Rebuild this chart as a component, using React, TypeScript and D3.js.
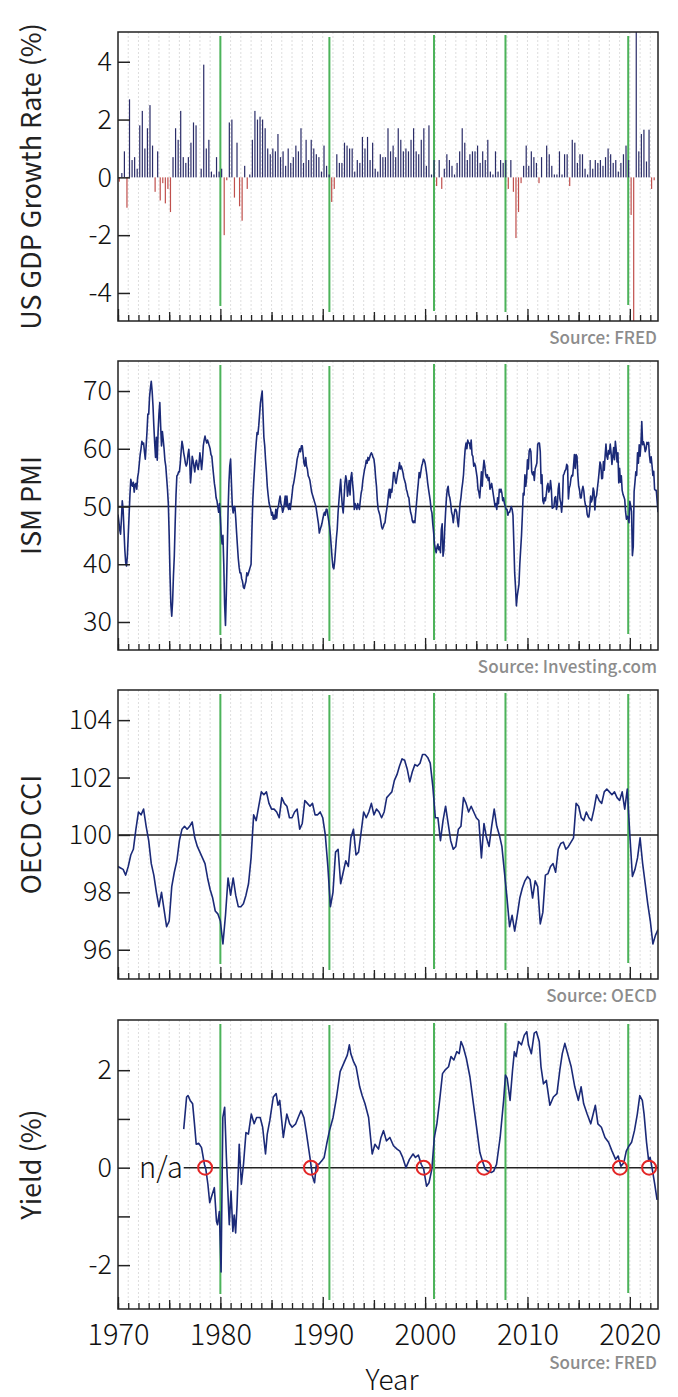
import React, { useEffect, useRef } from "react";
import * as d3 from "d3";

// quarterly real GDP growth, % q/q, from 1970 Q1
const gdpStart = 1970;
const gdpGrowth = [
  -0.15, 0.15, 0.9, -1.05, 2.7, 0.6, 0.7, 0.3, 1.8, 2.3, 1.0, 1.7, 2.5, 1.1, -0.5, 0.9,
  -0.8, -0.2, -0.9, -0.4, -1.2, 0.7, 1.7, 1.3, 2.3, 0.7, 0.5, 0.7, 1.2, 1.9, 1.8, 0.0,
  0.3, 3.9, 1.0, 1.3, 0.2, 0.1, 0.7, 0.2, 0.3, -2.0, -0.1, 1.9, 2.0, -0.7, 1.2, -1.0,
  -1.5, 0.4, -0.4, 0.1, 1.3, 2.3, 2.0, 2.1, 2.0, 1.7, 1.0, 0.8, 1.0, 0.9, 1.5, 0.7,
  0.9, 0.4, 1.0, 0.5, 0.7, 1.1, 0.9, 1.7, 0.5, 1.3, 0.6, 1.3, 1.0, 0.8, 0.7, 0.2,
  1.1, 0.4, 0.1, -0.85, -0.4, 0.8, 0.5, 0.5, 1.2, 1.1, 1.0, 1.0, 0.2, 0.6, 0.5, 1.4,
  1.0, 1.4, 0.6, 1.2, 0.3, 0.2, 0.8, 0.7, 0.7, 1.7, 0.9, 1.1, 0.7, 1.7, 1.3, 0.9,
  1.0, 0.9, 1.3, 1.7, 0.9, 0.8, 1.3, 1.7, 0.4, 1.8, 0.1, 0.6, -0.3, 0.6, -0.4, 0.3,
  0.8, 0.6, 0.4, 0.1, 0.5, 0.9, 1.7, 1.2, 0.6, 0.8, 0.9, 0.9, 1.1, 0.5, 0.9, 0.6,
  1.3, 0.2, 0.1, 0.9, 0.2, 0.6, 0.5, 0.6, -0.4, 0.6, -0.5, -2.1, -1.2, -0.2, 0.4, 1.1,
  0.4, 0.9, 0.7, 0.5, -0.2, 0.7, 0.0, 1.1, 0.8, 0.4, 0.1, 0.1, 0.9, 0.1, 0.8, 0.8,
  -0.3, 1.3, 1.2, 0.5, 0.8, 0.8, 0.3, 0.1, 0.6, 0.3, 0.6, 0.5, 0.6, 0.4, 0.7, 1.0,
  0.8, 0.5, 0.6, 0.2, 0.5, 0.8, 1.1, 0.6, -1.3, -7.9, 7.5, 0.9, 1.5, 1.65, 0.55, 1.65,
  -0.4, -0.1,
];

// ISM manufacturing PMI, monthly from Jan 1970
const pmiStart = 1970;
const pmiValues = [
  48.6, 47.4, 46.0, 45.2, 47.8, 51.0, 49.5, 46.0, 42.5, 40.3, 39.7, 41.5,
  45.0, 48.5, 52.0, 54.7, 54.0, 53.5, 54.2, 52.5, 53.8, 54.0, 53.0, 55.0,
  55.9, 57.5, 59.0, 60.0, 61.3, 60.8, 61.0, 59.5, 58.2, 60.5, 63.0, 66.0,
  66.0, 69.0, 70.5, 71.7, 70.0, 67.5, 64.0, 61.0, 58.5, 62.0, 58.0, 63.0,
  66.0, 68.0, 64.0, 60.5, 63.0, 61.6, 60.0, 58.0, 57.0, 55.0, 53.0, 50.5,
  45.0, 38.0, 33.0, 31.0, 33.5, 38.0, 41.4, 47.0, 52.0, 55.3, 55.5, 56.0,
  56.0, 57.5, 59.5, 61.3, 60.5, 59.3, 58.5, 57.5, 57.0, 57.5, 59.0, 59.9,
  58.0, 54.1, 56.0, 58.7, 58.0, 57.0, 56.0, 57.5, 58.0, 57.0, 56.4, 57.5,
  59.3, 58.0, 56.4, 58.0, 60.5, 61.5, 62.2, 61.5, 61.0, 61.5, 61.0, 60.5,
  60.0, 59.0, 58.7, 57.0, 55.5, 54.0, 53.0, 51.5, 51.0, 50.0, 49.0, 50.5,
  48.0, 45.0, 43.5, 45.0, 40.0, 33.0, 29.4, 35.0, 42.0, 49.0, 54.0, 57.0,
  58.2, 54.0, 50.0, 48.9, 50.0, 50.0, 48.0, 45.5, 43.2, 41.0, 39.5, 38.5,
  38.5, 37.5, 37.0, 36.0, 35.8, 36.5, 37.0, 38.5, 38.0, 38.5, 39.0, 39.5,
  40.0, 46.0, 51.0, 54.0, 56.5, 59.0, 61.0, 62.8, 62.5, 64.0, 66.0, 68.0,
  69.0, 70.0, 66.0, 62.0, 60.5, 58.0, 56.0, 53.5, 52.0, 50.7, 50.0, 49.5,
  48.5, 49.0, 47.8, 48.5, 47.8, 49.5, 48.0, 49.5, 50.0, 51.0, 51.8, 50.5,
  50.0, 49.0, 49.5, 50.5, 51.8, 50.0, 51.8, 50.0, 49.5, 50.5, 49.5, 50.8,
  52.0, 53.5, 54.1, 55.0, 56.0, 57.0, 58.2, 58.8, 59.5, 60.0, 59.5, 60.5,
  60.5, 59.0, 57.5, 57.0, 58.5, 57.0, 56.5, 55.3, 55.0, 54.5, 53.5, 52.5,
  52.0, 51.5, 51.0, 50.5, 50.0, 49.0, 48.0, 47.0, 45.4, 46.0, 46.5, 47.0,
  47.8, 48.5, 49.0, 48.5, 49.5, 49.5, 48.5, 47.5, 46.5, 45.0, 43.0, 41.0,
  39.5, 39.2, 40.5, 42.5, 44.5, 46.1, 49.0, 51.0, 53.0, 54.7, 52.0, 50.0,
  48.9, 51.5, 54.0, 55.3, 54.5, 51.8, 53.0, 54.5, 52.0, 55.0, 55.9, 54.0,
  52.5, 49.5, 50.5, 50.0, 49.5, 50.5, 50.0, 49.5, 51.0, 52.3, 53.0, 54.5,
  55.5, 56.4, 57.0, 58.0, 57.5, 58.5, 58.0, 58.5, 59.0, 59.3, 59.0, 58.5,
  58.2, 57.0, 55.0, 53.5, 51.0, 49.5, 49.0, 48.5, 47.5, 46.5, 46.1, 46.5,
  47.0, 47.2, 48.5, 49.5, 50.5, 52.0, 53.0, 51.5, 53.0, 52.5, 54.0, 55.9,
  55.9, 54.5, 54.0, 55.0, 56.0, 56.5, 57.6, 56.5, 57.0, 56.5, 55.9, 55.0,
  54.5, 54.0, 53.0, 52.5, 51.8, 51.5, 50.0, 49.0, 48.5, 47.5, 47.2, 47.5,
  47.2, 49.0, 50.7, 52.5, 54.0, 55.9, 55.0, 56.0, 57.0, 57.5, 58.2, 58.0,
  57.5, 56.5, 55.5, 54.1, 53.0, 52.0, 51.0, 49.5, 48.9, 47.0, 45.5, 43.5,
  42.6, 42.0, 43.0, 43.5, 42.5, 43.0, 42.0, 46.0, 47.0, 41.4, 42.5, 46.1,
  49.0, 51.5, 53.0, 53.5, 52.0, 51.5, 50.5, 49.0, 48.5, 47.2, 48.5, 49.5,
  49.5, 49.0, 47.5, 46.5, 48.5, 50.5, 51.5, 53.0, 54.1, 55.5, 58.0, 60.0,
  61.0, 60.0, 61.5, 61.0, 61.0, 60.0, 61.5, 59.0, 58.7, 57.0, 57.5, 57.0,
  56.0, 55.0, 53.0, 52.5, 51.5, 53.5, 56.0, 53.5, 56.4, 58.0, 57.0, 55.5,
  55.0, 55.5, 54.5, 55.0, 53.0, 53.5, 54.0, 53.0, 52.0, 51.0, 50.0, 50.5,
  49.5, 51.5, 50.5, 53.0, 52.5, 53.0, 52.3, 51.0, 51.5, 50.5, 50.0, 49.5,
  49.5, 48.5, 49.0, 49.0, 49.5, 50.0, 49.5, 48.5, 43.7, 38.5, 36.0, 32.8,
  34.5, 35.5, 36.5, 40.0, 42.5, 45.0, 48.5, 52.3, 52.0, 55.5, 53.5, 55.0,
  58.1, 56.5, 59.6, 60.0, 59.5, 56.0, 55.5, 56.0, 54.5, 56.5, 57.0, 57.5,
  60.8, 61.0, 61.0, 59.5, 54.0, 55.5, 51.0, 50.5, 51.5, 51.0, 52.0, 53.5,
  54.0, 52.5, 53.0, 54.5, 53.0, 49.7, 49.8, 50.0, 51.5, 51.7, 49.5, 50.2,
  53.0, 54.0, 51.3, 50.7, 49.0, 50.9, 55.4, 55.7, 56.2, 56.4, 57.3, 57.0,
  51.3, 53.2, 53.7, 54.9, 55.4, 55.3, 57.1, 59.0, 56.6, 59.0, 58.7, 55.5,
  53.5, 52.9, 51.5, 51.5, 52.8, 53.5, 52.7, 51.1, 50.2, 50.1, 48.6, 48.2,
  48.2, 49.5, 51.8, 50.8, 51.3, 53.2, 52.6, 49.4, 51.5, 51.9, 53.2, 54.5,
  56.0, 57.7, 57.2, 54.8, 54.9, 57.8, 56.3, 58.8, 60.8, 58.7, 58.2, 59.7,
  59.1, 60.8, 59.3, 57.3, 58.7, 60.2, 58.1, 61.3, 59.8, 57.7, 59.3, 54.1,
  56.6, 54.2, 55.3, 52.8, 52.1, 51.7, 51.2, 49.1, 47.8, 48.3, 48.1, 47.2,
  50.9, 50.1, 49.1, 41.5, 43.1, 52.6, 54.2, 56.0, 55.4, 59.3, 57.5, 60.7,
  58.7, 60.8, 64.7, 60.7, 61.2, 60.6, 59.5, 59.9, 61.1, 60.8, 61.1, 58.8,
  57.6, 58.6, 57.1, 55.4, 56.1, 53.0, 52.8, 52.8, 50.9, 49.0,
];

// OECD consumer confidence indicator (US), quarterly from 1970 Q1
const cciStart = 1970;
const cciValues = [
  98.9, 98.85, 98.8, 98.6, 98.9, 99.3, 99.5, 100.2, 100.8, 100.7, 100.9, 100.3,
  99.8, 99.0, 98.6, 98.0, 97.5, 98.0, 97.4, 96.8, 97.0, 98.2, 98.7, 99.1,
  99.8, 100.2, 100.3, 100.2, 100.3, 100.45, 99.9, 99.6, 99.4, 99.2, 99.0, 98.5,
  98.1, 97.8, 97.35, 97.25, 97.0, 96.2, 97.2, 98.5, 97.9, 98.5, 97.9, 97.5,
  97.5, 97.6, 97.9, 98.3, 99.2, 100.7, 100.5, 101.0, 101.5, 101.4, 101.5, 101.1,
  100.9, 100.9, 100.8, 100.6, 101.3, 101.1, 101.0, 100.6, 100.6, 100.8, 100.9, 100.2,
  100.4, 101.2, 101.1, 101.0, 101.1, 100.7, 100.7, 100.8, 100.6, 100.0, 98.9, 97.5,
  98.0, 99.4, 99.5, 98.3, 98.7, 99.1, 98.9, 99.9, 100.2, 99.3, 99.4, 100.1,
  100.8, 100.6, 100.8, 101.1, 100.7, 100.9, 100.8, 100.6, 100.8, 101.3, 101.4, 101.5,
  101.9, 102.1, 102.4, 102.65, 102.6, 102.3, 101.85, 102.2, 102.45, 102.4, 102.5, 102.8,
  102.8, 102.7, 102.5, 101.7, 100.6, 100.6, 99.8, 100.5, 101.0, 100.4, 99.8, 99.5,
  99.6, 100.2, 100.3, 101.3, 101.1, 100.8, 101.0, 100.8, 100.6, 100.5, 99.2, 100.4,
  99.9, 99.6, 100.3, 100.9, 100.3, 100.0, 99.6, 98.7, 97.8, 96.8, 97.2, 96.65,
  97.2, 97.8, 98.15, 98.4, 98.55, 98.45, 97.8, 98.4, 98.2, 96.9, 97.3, 98.6,
  98.65, 98.9, 99.0, 98.7, 99.5, 99.7, 99.75, 99.5, 99.6, 99.75, 99.9, 101.1,
  101.0, 100.6, 100.5, 100.8, 100.6, 100.5, 100.9, 101.4, 101.2, 101.1, 101.5, 101.6,
  101.5, 101.4, 101.5, 101.3, 101.2, 101.5, 100.9, 101.6, 100.0, 98.55, 98.8, 99.2,
  99.9, 99.0, 98.3, 97.6, 97.0, 96.2, 96.5, 96.7,
];

// 10Y minus 2Y treasury yield spread
const yieldDates = [
  1976.42, 1976.70, 1976.84, 1977.05, 1977.29, 1977.47, 1977.64, 1977.88, 1978.16, 1978.44,
  1978.58, 1978.78, 1978.96, 1979.20, 1979.41, 1979.62, 1979.72, 1979.90, 1980.07, 1980.24,
  1980.42, 1980.59, 1980.87, 1981.04, 1981.22, 1981.35, 1981.49, 1981.63, 1981.84, 1982.05,
  1982.26, 1982.50, 1982.74, 1983.02, 1983.30, 1983.54, 1983.89, 1984.13, 1984.41, 1984.58,
  1984.83, 1985.17, 1985.45, 1985.63, 1985.80, 1986.15, 1986.49, 1986.77, 1987.01, 1987.36,
  1987.60, 1987.88, 1988.16, 1988.40, 1988.75, 1988.99, 1989.20, 1989.38, 1989.62, 1989.90,
  1990.14, 1990.38, 1990.66, 1991.01, 1991.35, 1991.70, 1992.05, 1992.40, 1992.60, 1992.74,
  1993.02, 1993.26, 1993.61, 1993.85, 1994.13, 1994.48, 1994.83, 1995.10, 1995.45, 1995.69,
  1995.94, 1996.22, 1996.56, 1996.91, 1997.26, 1997.53, 1997.81, 1998.13, 1998.47, 1998.82,
  1999.06, 1999.34, 1999.62, 1999.86, 2000.14, 2000.38, 2000.66, 2000.90, 2001.15, 2001.42,
  2001.70, 2001.94, 2002.29, 2002.53, 2002.81, 2003.09, 2003.33, 2003.51, 2003.72, 2004.03,
  2004.38, 2004.72, 2005.07, 2005.35, 2005.59, 2005.87, 2006.11, 2006.46, 2006.70, 2006.98,
  2007.33, 2007.67, 2007.85, 2008.02, 2008.30, 2008.54, 2008.72, 2008.89, 2009.13, 2009.41,
  2009.69, 2009.93, 2010.10, 2010.38, 2010.66, 2010.87, 2011.15, 2011.32, 2011.56, 2011.84,
  2012.19, 2012.53, 2012.88, 2013.16, 2013.40, 2013.65, 2013.92, 2014.27, 2014.62, 2014.97,
  2015.24, 2015.49, 2015.83, 2016.18, 2016.63, 2016.88, 2017.22, 2017.57, 2017.92, 2018.26,
  2018.61, 2018.85, 2019.13, 2019.41, 2019.65, 2019.93, 2020.17, 2020.45, 2020.73, 2020.97,
  2021.22, 2021.39, 2021.63, 2021.84, 2021.98, 2022.19, 2022.43, 2022.66,
];
const yieldValues = [
  0.79, 1.45, 1.48, 1.38, 1.31, 0.90, 0.48, 0.50, 0.41, 0.07,
  -0.03, -0.34, -0.72, -0.55, -0.41, -1.10, -1.17, -0.90, -2.14, 1.03,
  1.24, 0.21, -1.17, -0.48, -1.31, -0.97, -1.34, -0.76, 0.48, -0.34,
  0.07, 0.72, 0.69, 1.10, 0.90, 1.03, 1.03, 0.83, 0.28, 0.69,
  0.97, 1.45, 1.52, 1.28, 1.38, 0.62, 1.10, 0.90, 0.83, 0.90,
  1.03, 1.17, 1.03, 0.72, 0.21, -0.17, -0.31, 0.07, 0.07, 0.14,
  0.21, 0.48, 0.76, 1.03, 1.45, 1.97, 2.14, 2.31, 2.52, 2.34,
  2.17, 2.07, 1.66, 1.48, 1.31, 1.03, 0.28, 0.48, 0.38, 0.62,
  0.76, 0.55, 0.62, 0.45, 0.38, 0.34, 0.21, 0.00, 0.17, 0.28,
  0.21, 0.26, 0.07, -0.03, -0.38, -0.31, -0.03, 0.62, 0.90, 1.38,
  1.93, 2.00, 2.07, 2.28, 2.21, 2.38, 2.34, 2.59, 2.48, 2.24,
  1.86, 1.31, 0.76, 0.31, 0.14, -0.03, -0.07, -0.10, -0.07, 0.07,
  0.62, 1.38, 1.90, 1.83, 1.38, 2.00, 2.38, 2.28, 2.59, 2.52,
  2.72, 2.79, 2.52, 2.34, 2.76, 2.79, 2.59, 2.07, 1.72, 1.79,
  1.28, 1.45, 1.52, 2.00, 2.34, 2.55, 2.34, 2.07, 1.66, 1.38,
  1.66, 1.31, 1.10, 0.90, 1.28, 0.90, 0.83, 0.62, 0.52, 0.34,
  0.17, 0.24, 0.03, 0.10, 0.34, 0.45, 0.52, 0.76, 1.10, 1.48,
  1.38, 1.10, 0.52, 0.14, 0.21, -0.03, -0.34, -0.66,
];

const recessionYears = [1980.0, 1990.65, 2000.87, 2007.85, 2019.84];
const inversionYears = [1978.51, 1988.85, 1999.86, 2005.76, 2019.03, 2021.88];

const W = 678;
const H = 1397;
const LEFT = 118;
const RIGHT = 658;
const PANEL_H = 289;
const TOPS = [32, 361, 690, 1020];
const FONT = "'Noto Sans CJK SC', 'Noto Sans', sans-serif";
const NAVY = "#1b2a78";
const GREEN = "#4cb35a";

export default function App() {
  const ref = useRef<SVGSVGElement>(null);

  useEffect(() => {
    const svg = d3.select(ref.current);
    svg.selectAll("*").remove();

    const x = d3.scaleLinear().domain([1970, 2022.75]).range([LEFT, RIGHT]);
    const num = (d: number) => d3.format("d")(d).replace("\u2212", "-");

    const panels = [
      { title: "US GDP Growth Rate (%)", source: "Source: FRED", domain: [-4.97, 5.03], ticks: [4, 2, 0, -2, -4], ref: null as number | null },
      { title: "ISM PMI", source: "Source: Investing.com", domain: [25.15, 75.2], ticks: [70, 60, 50, 40, 30], ref: 50 },
      { title: "OECD CCI", source: "Source: OECD", domain: [94.98, 105.05], ticks: [104, 102, 100, 98, 96], ref: 100 },
      { title: "Yield (%)", source: "Source: FRED", domain: [-2.9, 3.03], ticks: [2, 1, 0, -1, -2], ref: 0 },
    ];
    const greenTop = [4, 5, 3, 3, 4];
    const greenBottom = [15, 9, 10, 9, 16];

    panels.forEach((p, i) => {
      const top = TOPS[i];
      const bottom = top + PANEL_H;
      const y = d3.scaleLinear().domain(p.domain).range([bottom, top]);
      const g = svg.append("g");

      const clipId = "clip" + i;
      svg.append("clipPath").attr("id", clipId)
        .append("rect").attr("x", LEFT).attr("y", top).attr("width", RIGHT - LEFT).attr("height", PANEL_H);

      // yearly dotted grid
      g.append("g").selectAll("line").data(d3.range(1971, 2023)).join("line")
        .attr("x1", d => x(d)).attr("x2", d => x(d))
        .attr("y1", top).attr("y2", bottom)
        .attr("stroke", "#d4d4d4").attr("stroke-width", 0.8).attr("stroke-dasharray", "2,2");

      // reference line
      if (p.ref !== null) {
        const x0 = i === 3 ? x(yieldDates[0]) : LEFT;
        g.append("line").attr("x1", x0).attr("x2", RIGHT)
          .attr("y1", y(p.ref)).attr("y2", y(p.ref))
          .attr("stroke", "#222").attr("stroke-width", 1.5);
      }

      // recession markers
      g.append("g").selectAll("line").data(recessionYears).join("line")
        .attr("x1", d => x(d)).attr("x2", d => x(d))
        .attr("y1", (_, k) => top + greenTop[k]).attr("y2", (_, k) => bottom - greenBottom[k])
        .attr("stroke", GREEN).attr("stroke-width", 2);

      const plot = g.append("g").attr("clip-path", `url(#${clipId})`);

      if (i === 0) {
        plot.selectAll("rect").data(gdpGrowth).join("rect")
          .attr("x", (_, k) => x(gdpStart + (k + 0.5) / 4) - 0.6)
          .attr("width", 1.2)
          .attr("y", d => Math.min(y(d), y(0)))
          .attr("height", d => Math.abs(y(d) - y(0)))
          .attr("fill", d => (d < 0 ? "#c0504d" : "#2a2c68"));
      } else {
        let pts: [number, number][] = [];
        if (i === 1) pts = pmiValues.map((v, k) => [pmiStart + k / 12, v]);
        if (i === 2) pts = cciValues.map((v, k) => [cciStart + k / 4, v]);
        if (i === 3) pts = yieldValues.map((v, k) => [yieldDates[k], v]);
        const line = d3.line<[number, number]>().x(d => x(d[0])).y(d => y(d[1]));
        plot.append("path").attr("d", line(pts))
          .attr("fill", "none").attr("stroke", NAVY).attr("stroke-width", 1.6)
          .attr("stroke-linejoin", "round");
      }

      if (i === 3) {
        g.append("g").selectAll("circle").data(inversionYears).join("circle")
          .attr("cx", d => x(d)).attr("cy", y(0)).attr("r", 7)
          .attr("fill", "none").attr("stroke", "#e32626").attr("stroke-width", 2);
        g.append("text").attr("x", LEFT + 21).attr("y", y(0)).attr("dy", "0.34em")
          .attr("font-family", FONT).attr("font-size", 29).attr("font-weight", 300)
          .attr("fill", "#111").text("n/a");
      }

      // x ticks (inward): yearly, 5-yearly, 10-yearly
      const tickSets: [number[], number][] = [
        [d3.range(1970, 2023), 6],
        [d3.range(1975, 2023, 10), 9],
        [d3.range(1970, 2023, 10), 12],
      ];
      tickSets.forEach(([vals, len], k) => {
        const ax = d3.axisBottom(x).tickValues(vals).tickSizeInner(-len).tickSizeOuter(0).tickPadding(15)
          .tickFormat(k === 2 && i === 3 ? d3.format("d") : () => "");
        const ag = svg.append("g").attr("transform", `translate(0,${bottom})`).call(ax);
        ag.select(".domain").remove();
        ag.selectAll(".tick line").attr("stroke", "#222").attr("stroke-width", 1.3);
        ag.selectAll("text").attr("font-family", FONT).attr("font-size", 29).attr("font-weight", 300).attr("fill", "#111");
      });

      // y axis
      const yax = d3.axisLeft(y).tickValues(p.ticks).tickSizeInner(-12).tickSizeOuter(0).tickPadding(6)
        .tickFormat(d => (i === 3 && Math.abs(+d) === 1 ? "" : num(+d)));
      const yg = svg.append("g").attr("transform", `translate(${LEFT},0)`).call(yax);
      yg.select(".domain").remove();
      yg.selectAll(".tick line").attr("stroke", "#222").attr("stroke-width", 1.5);
      yg.selectAll("text").attr("font-family", FONT).attr("font-size", 27).attr("font-weight", 300).attr("fill", "#111");

      // frame
      svg.append("rect").attr("x", LEFT).attr("y", top).attr("width", RIGHT - LEFT).attr("height", PANEL_H)
        .attr("fill", "none").attr("stroke", "#222").attr("stroke-width", 1.5);

      // titles
      svg.append("text")
        .attr("transform", `translate(32,${(top + bottom) / 2}) rotate(-90)`)
        .attr("text-anchor", "middle").attr("dy", "0.35em")
        .attr("font-family", FONT).attr("font-size", 27).attr("fill", "#222").text(p.title);

      svg.append("text")
        .attr("x", RIGHT - 1).attr("y", i === 3 ? bottom + 60 : bottom + 23)
        .attr("text-anchor", "end")
        .attr("font-family", FONT).attr("font-size", 17).attr("font-weight", 500)
        .attr("fill", "#8c8c8c").text(p.source);
    });

    svg.append("text").attr("x", 392).attr("y", 1390)
      .attr("text-anchor", "middle").attr("font-family", FONT).attr("font-size", 28)
      .attr("font-weight", 300).attr("fill", "#111").text("Year");
  }, []);

  return (
    <svg ref={ref} width={W} height={H}
      style={{ position: "absolute", left: 0, top: 0, background: "#fff" }} />
  );
}
